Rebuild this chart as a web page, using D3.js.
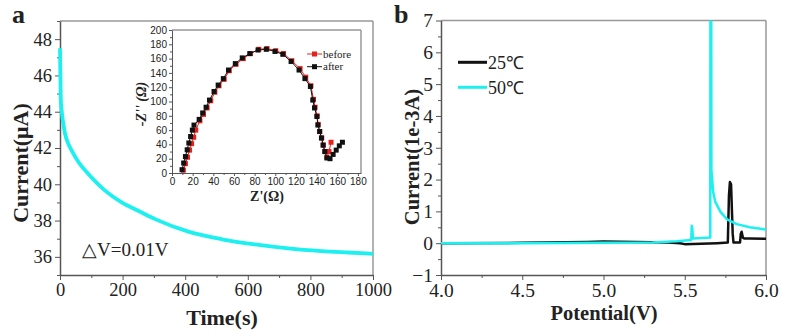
<!DOCTYPE html>
<html>
<head>
<meta charset="utf-8">
<script src="https://cdn.jsdelivr.net/npm/d3@7"></script>
<style>
  body { margin: 0; background: #fff; }
  svg text { font-family: "Liberation Serif", "Times New Roman", serif; fill: #222; }
</style>
</head>
<body>
<svg id="chart" width="793" height="336"></svg>
<script>
// panel a: chronoamperometry at dV = 0.01 V
const timeS = [0, 1, 2, 3, 5, 10, 16, 25, 37, 60, 90, 144, 197, 250, 304, 410, 517, 623, 729, 836, 920, 1000];
const currentUA = [47.5, 46.3, 45.2, 44.5, 44.1, 43.4, 42.8, 42.3, 41.87, 41.2, 40.58, 39.65, 39.0, 38.54, 38.08, 37.39, 36.97, 36.69, 36.47, 36.32, 36.24, 36.17];
const aYTicks = [36, 38, 40, 42, 44, 46, 48];
const aXTicks = [0, 200, 400, 600, 800, 1000];

// inset: Nyquist plot, before / after
const zReAfter = [9.7, 11.3, 13, 14.7, 16.3, 18, 19.7, 21.3, 26.3, 29.7, 33, 36.3, 40.7, 44.7, 49.7, 54.7, 61.3, 68, 75.3, 83.3, 91.3, 99.7, 107.3, 115.3, 123, 128.7, 134, 136.3, 138, 140.3, 141.3, 143, 144.7, 146.3, 148, 150, 153, 156, 159, 162, 165];
const zImAfter = [4.6, 14, 23, 32.5, 42, 51, 60, 67, 75, 84, 92, 102, 114, 123, 132, 144, 153, 161, 167, 172, 173, 170, 166, 156, 144, 132, 121, 102, 91, 79, 67, 58, 49, 39, 30, 21, 20, 26, 32, 38, 43];
const zReBefore = [11, 13, 15, 17, 19, 21, 23, 27, 30.5, 34, 37.5, 41.5, 45.5, 50.5, 55.5, 62, 69, 76, 84, 92, 100.5, 108, 116, 124, 129.5, 134.5, 137, 138.5, 140.5, 141.5, 143, 145, 146.5, 148, 150, 152, 154];
const zImBefore = [4, 13, 22, 32, 41, 50, 60, 73, 82, 91, 101, 113, 122, 131, 143, 152, 160, 167, 173, 174, 171, 167, 157, 146, 134, 122, 103, 92, 80, 68, 58, 49, 39, 30, 22, 30, 43];
const inXTicks = [0, 20, 40, 60, 80, 100, 120, 140, 160, 180];
const inYTicks = [0, 20, 40, 60, 80, 100, 120, 140, 160, 180, 200];

// panel b: linear sweep voltammetry
const potential25 = [4.0, 4.5, 4.9, 5.0, 5.2, 5.4, 5.47, 5.5, 5.6, 5.7, 5.765, 5.772, 5.778, 5.785, 5.795, 5.80, 5.84, 5.845, 5.85, 5.858, 5.865, 5.9, 6.0];
const current25 = [0, 0.01, 0.04, 0.05, 0.04, 0.02, 0.0, -0.03, -0.02, 0.0, 0.02, 1.5, 1.92, 1.85, 0.3, 0.02, 0.02, 0.3, 0.36, 0.17, 0.15, 0.15, 0.14];
const potential50 = [4.0, 4.5, 5.0, 5.3, 5.45, 5.54, 5.543, 5.546, 5.55, 5.6, 5.657, 5.658, 5.663, 5.664, 5.675, 5.688, 5.719, 5.76, 5.82, 5.9, 6.0];
const current50 = [0, 0, 0.01, 0.02, 0.06, 0.1, 0.55, 0.5, 0.15, 0.16, 0.18, 7.4, 7.4, 2.3, 1.6, 1.3, 0.99, 0.75, 0.6, 0.5, 0.43];
const bYTicks = [-1, 0, 1, 2, 3, 4, 5, 6, 7];
const bXTicks = [4.0, 4.5, 5.0, 5.5, 6.0];
const bSeries = ["25℃", "50℃"];
const bColors = ["#111", "#1cf0f0"];

const svg = d3.select("#chart");

function frame(g, x, y) {
  const [x0, x1] = x.range(), [y0, y1] = y.range();
  g.append("line").attr("x1", x0).attr("x2", x1).attr("y1", y1).attr("y2", y1)
    .attr("stroke", "#999").attr("stroke-width", 1.5);
  g.append("line").attr("x1", x1).attr("x2", x1).attr("y1", y0).attr("y2", y1)
    .attr("stroke", "#999").attr("stroke-width", 1.5);
}

function axes(g, x, y, opt) {
  const bottom = y.range()[0], left = x.range()[0];
  const xa = g.append("g").attr("transform", `translate(0,${bottom})`)
    .call(d3.axisBottom(x).tickValues(opt.xTicks).tickSize(opt.major).tickSizeOuter(0)
      .tickPadding(opt.pad).tickFormat(opt.xFmt));
  g.append("g").attr("transform", `translate(0,${bottom})`)
    .call(d3.axisBottom(x).tickValues(opt.xMinor).tickSize(opt.minor).tickFormat(""))
    .select(".domain").remove();
  const ya = g.append("g").attr("transform", `translate(${left},0)`)
    .call(d3.axisLeft(y).tickValues(opt.yTicks).tickSize(opt.major).tickSizeOuter(0)
      .tickPadding(opt.pad).tickFormat(opt.yFmt));
  g.append("g").attr("transform", `translate(${left},0)`)
    .call(d3.axisLeft(y).tickValues(opt.yMinor).tickSize(opt.minor).tickFormat(""))
    .select(".domain").remove();
  g.selectAll(".domain").attr("stroke", "#555").attr("stroke-width", 1.5);
  g.selectAll(".tick line").attr("stroke", "#555").attr("stroke-width", 1);
  [xa, ya].forEach(a => a.selectAll("text")
    .style("font-family", opt.font).style("font-size", opt.size + "px").attr("fill", "#222"));
}

// ---------- panel a ----------
const ax = d3.scaleLinear().domain([0, 1000]).range([60, 373]);
const ay = d3.scaleLinear().domain([35, 49]).range([275, 21]);
const ga = svg.append("g");
frame(ga, ax, ay);
axes(ga, ax, ay, {
  xTicks: aXTicks, xMinor: d3.range(100, 1000, 200), yTicks: aYTicks, yMinor: d3.range(35, 50, 2),
  major: 5, minor: 3, pad: 3, font: "'Liberation Serif', serif", size: 18.5,
  xFmt: d3.format("d"), yFmt: d3.format("d")
});
ga.append("path")
  .datum(timeS.map((t, i) => [t, currentUA[i]]))
  .attr("fill", "none").attr("stroke", "#1cf0f0").attr("stroke-width", 3.8)
  .attr("d", d3.line().x(d => ax(d[0])).y(d => ay(d[1])).curve(d3.curveMonotoneX));
ga.append("text").attr("x", 82).attr("y", 256).style("font-size", "19px").attr("fill", "#333")
  .text("△V=0.01V");
ga.append("text").attr("transform", "translate(28,163) rotate(-90)").attr("text-anchor", "middle")
  .style("font-size", "22px").style("font-weight", "bold").text("Current(μA)");
ga.append("text").attr("x", 222).attr("y", 325).attr("text-anchor", "middle")
  .style("font-size", "22px").style("font-weight", "bold").text("Time(s)");
ga.append("text").attr("x", 12).attr("y", 23).style("font-size", "26px").style("font-weight", "bold").text("a");

// ---------- inset ----------
const ix = d3.scaleLinear().domain([0, 183]).range([172, 361]);
const iy = d3.scaleLinear().domain([0, 200]).range([173, 30]);
const gi = svg.append("g");
frame(gi, ix, iy);
axes(gi, ix, iy, {
  xTicks: inXTicks, xMinor: d3.range(10, 190, 20), yTicks: inYTicks, yMinor: d3.range(10, 200, 20),
  major: 3, minor: 2, pad: 2, font: "'Liberation Sans', sans-serif", size: 10,
  xFmt: d3.format("d"), yFmt: d3.format("d")
});
gi.selectAll(".domain").attr("stroke-width", 1);
const nyq = [
  { re: zReBefore, im: zImBefore, color: "#e8201c" },
  { re: zReAfter, im: zImAfter, color: "#111" }
];
nyq.forEach(s => {
  const pts = s.re.map((r, i) => [r, s.im[i]]);
  gi.append("path").datum(pts).attr("fill", "none").attr("stroke", s.color).attr("stroke-width", 1)
    .attr("d", d3.line().x(d => ix(d[0])).y(d => iy(d[1])));
  gi.selectAll(null).data(pts).join("rect")
    .attr("x", d => ix(d[0]) - 2.5).attr("y", d => iy(d[1]) - 2.5)
    .attr("width", 5).attr("height", 5).attr("fill", s.color);
});
const inLegend = ["before", "after"];
inLegend.forEach((name, i) => {
  const yy = 54 + i * 12.7;
  gi.append("line").attr("x1", 307).attr("x2", 322).attr("y1", yy).attr("y2", yy)
    .attr("stroke", nyq[i].color).attr("stroke-width", 1);
  gi.append("rect").attr("x", 312).attr("y", yy - 2.5).attr("width", 5).attr("height", 5).attr("fill", nyq[i].color);
  gi.append("text").attr("x", 323).attr("y", yy + 3.5).style("font-size", "11px").attr("fill", "#333").text(name);
});
gi.append("text").attr("x", 267).attr("y", 201).attr("text-anchor", "middle")
  .style("font-size", "14px").style("font-weight", "bold").text("Z'(Ω)");
gi.append("text").attr("transform", "translate(146,104) rotate(-90)").attr("text-anchor", "middle")
  .style("font-size", "14px").style("font-weight", "bold").style("font-style", "italic").text("-Z'' (Ω)");

// ---------- panel b ----------
const bx = d3.scaleLinear().domain([4, 6]).range([441, 766]);
const by = d3.scaleLinear().domain([-1, 7]).range([275, 20.5]);
const gb = svg.append("g");
svg.append("clipPath").attr("id", "clipb").append("rect")
  .attr("x", 441).attr("y", 20.5).attr("width", 325).attr("height", 254.5);
frame(gb, bx, by);
axes(gb, bx, by, {
  xTicks: bXTicks, xMinor: d3.range(4.25, 6, 0.5), yTicks: bYTicks, yMinor: d3.range(-0.5, 7, 1),
  major: 5, minor: 3, pad: 3, font: "'Liberation Serif', serif", size: 19.5,
  xFmt: d3.format(".1f"), yFmt: d3.format("d")
});
const lsv = [
  { v: potential25, i: current25 },
  { v: potential50, i: current50 }
];
const lineB = d3.line().x(d => bx(d[0])).y(d => by(d[1]));
lsv.forEach((s, k) => {
  gb.append("path").datum(s.v.map((v, j) => [v, s.i[j]]))
    .attr("clip-path", "url(#clipb)")
    .attr("fill", "none").attr("stroke", bColors[k]).attr("stroke-width", 2.5)
    .attr("stroke-linejoin", "round").attr("d", lineB);
});
bSeries.forEach((name, k) => {
  const yy = 62.3 + k * 25;
  gb.append("line").attr("x1", 458).attr("x2", 487).attr("y1", yy).attr("y2", yy)
    .attr("stroke", bColors[k]).attr("stroke-width", 3);
  gb.append("text").attr("x", 488).attr("y", yy + 6.5).style("font-size", "18px").text(name);
});
gb.append("text").attr("transform", "translate(419,157) rotate(-90)").attr("text-anchor", "middle")
  .style("font-size", "20.5px").style("font-weight", "bold").text("Current(1e-3A)");
gb.append("text").attr("x", 604).attr("y", 320).attr("text-anchor", "middle")
  .style("font-size", "20.5px").style("font-weight", "bold").text("Potential(V)");
gb.append("text").attr("x", 394).attr("y", 23).style("font-size", "26px").style("font-weight", "bold").text("b");
</script>
</body>
</html>
